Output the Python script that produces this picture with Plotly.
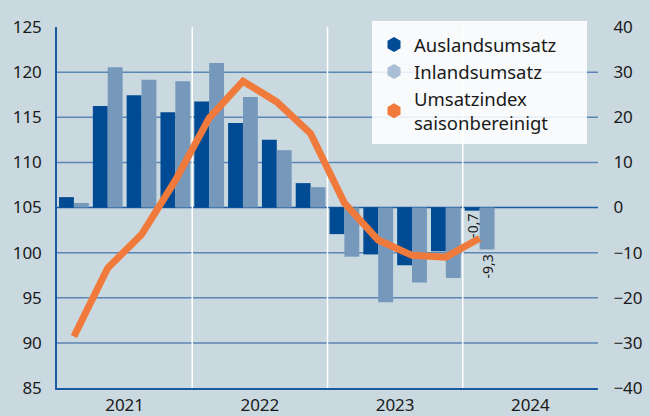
import plotly.graph_objects as go

# ---- data ----
quarters = ["2021Q1", "2021Q2", "2021Q3", "2021Q4",
            "2022Q1", "2022Q2", "2022Q3", "2022Q4",
            "2023Q1", "2023Q2", "2023Q3", "2023Q4",
            "2024Q1"]
ausland = [2.3, 22.5, 24.9, 21.1, 23.5, 18.7, 15.0, 5.4, -5.9, -10.4, -12.8, -9.7, -0.7]
inland = [1.0, 31.1, 28.3, 28.0, 32.0, 24.5, 12.7, 4.5, -10.9, -21.0, -16.6, -15.6, -9.3]
umsatzindex = [90.7, 98.3, 102.0, 108.0, 114.9, 119.0, 116.7, 113.2, 105.5, 101.4, 99.7, 99.5, 101.6]
years = ["2021", "2022", "2023", "2024"]
left_ticks = [85, 90, 95, 100, 105, 110, 115, 120, 125]
right_ticks = [-40, -30, -20, -10, 0, 10, 20, 30, 40]

# ---- style ----
BG = "#cad8df"
DARK = "#004b93"
LIGHT = "#7698bb"
LIGHT_LEG = "#aabed6"
ORANGE = "#ef7a3b"
GRID = "#5b86b6"
AXIS = "#1a5aa0"
TXT = "#1a1a1a"
FONT = "Noto Sans"

xs = list(range(len(quarters)))

fig = go.Figure()
# bars on the right-hand (percent) axis "y"
fig.add_trace(go.Bar(x=xs, y=ausland, yaxis="y", marker=dict(color=DARK, line=dict(width=0)),
                     showlegend=False, name="Auslandsumsatz"))
fig.add_trace(go.Bar(x=xs, y=inland, yaxis="y", marker=dict(color=LIGHT, line=dict(width=0)),
                     showlegend=False, name="Inlandsumsatz"))
# line on the left-hand (index) axis "y2", overlaying -> drawn on top
fig.add_trace(go.Scatter(x=xs, y=umsatzindex, yaxis="y2", mode="lines",
                         line=dict(color=ORANGE, width=7), showlegend=False,
                         name="Umsatzindex saisonbereinigt"))

# legend-only entries (hexagon markers)
for nm, col in [("Auslandsumsatz", DARK), ("Inlandsumsatz", LIGHT_LEG),
                ("Umsatzindex<br>saisonbereinigt", ORANGE)]:
    fig.add_trace(go.Scatter(x=[None], y=[None], mode="markers", name=nm,
                             marker=dict(symbol="hexagon", size=15, color=col)))

shapes = []
# horizontal grid lines
for v in left_ticks[1:-1]:
    shapes.append(dict(type="line", xref="paper", yref="y2", x0=0, x1=1, y0=v, y1=v,
                       line=dict(color=AXIS if v == 105 else GRID, width=1.5), layer="below"))
# year separators
for b in [3.5, 7.5, 11.5]:
    shapes.append(dict(type="line", xref="x", yref="paper", x0=b, x1=b, y0=0, y1=1,
                       line=dict(color="white", width=1.5), layer="below"))
# legend box
shapes.append(dict(type="rect", xref="paper", yref="paper",
                   x0=(372 - 57) / 541, x1=(587 - 57) / 541,
                   y0=1 - (144 - 27) / 361, y1=1 + (27 - 21) / 361,
                   fillcolor="rgba(255,255,255,0.86)", line=dict(width=0), layer="above"))

annotations = [
    dict(x=xs[-1] - 0.22, y=ausland[-1], xref="x", yref="y", text="-0,7", textangle=-90,
         showarrow=False, xanchor="center", yanchor="top", yshift=-1,
         font=dict(family=FONT, size=14, color=TXT)),
    dict(x=xs[-1] + 0.22, y=inland[-1], xref="x", yref="y", text="-9,3", textangle=-90,
         showarrow=False, xanchor="center", yanchor="top", yshift=-3,
         font=dict(family=FONT, size=14, color=TXT)),
]

fig.update_layout(
    width=650, height=416,
    margin=dict(l=57, r=52, t=27, b=28, autoexpand=False),
    paper_bgcolor=BG, plot_bgcolor=BG,
    font=dict(family=FONT, size=17, color=TXT),
    barmode="group", bargap=0.12, bargroupgap=0,
    shapes=shapes, annotations=annotations,
    showlegend=True,
    legend=dict(x=(374 - 57) / 541, y=1 + (27 - 26) / 361, xanchor="left", yanchor="top",
                bgcolor="rgba(0,0,0,0)", borderwidth=0,
                font=dict(family=FONT, size=18.5, color=TXT), tracegroupgap=0),
    xaxis=dict(range=[-0.5, 15.5], tickmode="array", tickvals=[1.5, 5.5, 9.5, 13.5],
               ticktext=years, showgrid=False, zeroline=False, showline=True,
               linecolor=AXIS, linewidth=2, ticks="outside", ticklen=1,
               tickcolor="rgba(0,0,0,0)", automargin=False),
    yaxis=dict(range=[-40, 40], tickmode="array", tickvals=right_ticks, side="right",
               showgrid=False, zeroline=False, showline=False, automargin=False,
               ticks="outside", ticklen=11, tickcolor="rgba(0,0,0,0)"),
    yaxis2=dict(range=[85, 125], tickmode="array", tickvals=left_ticks, overlaying="y",
                side="left", showgrid=False, zeroline=False, showline=True,
                linecolor=AXIS, linewidth=1.5, automargin=False,
                ticks="outside", ticklen=10, tickcolor="rgba(0,0,0,0)"),
)

fig.write_html("out.html",
               config={"displayModeBar": False},
               post_script="document.body.style.margin='0';"
                           "document.body.style.background='%s';" % BG)
